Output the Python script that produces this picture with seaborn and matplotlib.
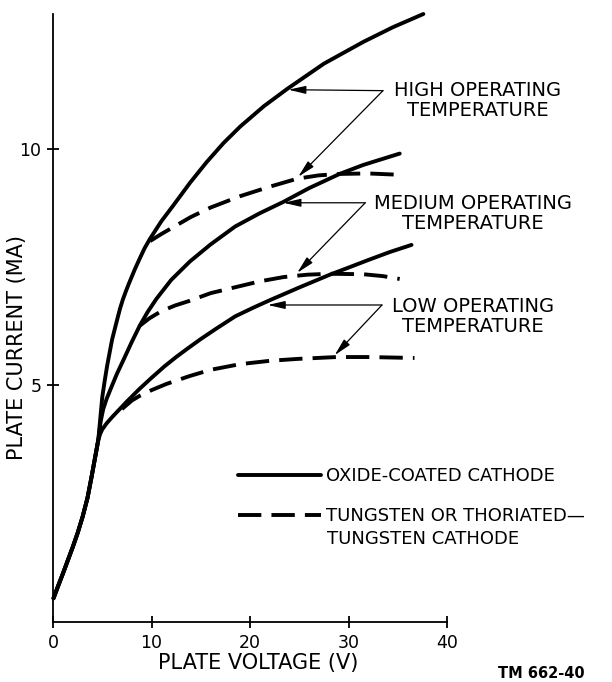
import matplotlib
matplotlib.use("Agg")
import matplotlib.pyplot as plt
from matplotlib.lines import Line2D
import seaborn as sns
import pandas as pd

# ---------------- data ----------------
common_v = [0.05, 0.5, 1.0, 1.5, 2.0, 2.5, 3.0, 3.5, 3.9, 4.25, 4.6]
common_i = [0.50, 0.75, 1.02, 1.30, 1.58, 1.88, 2.22, 2.62, 3.05, 3.45, 3.85]

high_solid_v = [4.8, 5.0, 5.25, 5.5, 6.0, 6.5, 6.8, 7.1, 7.4, 7.7, 8.3, 8.8, 9.3, 9.85, 11.0, 12.2,
                13.9, 15.6, 17.3, 19.0, 21.4, 23.8, 27.5, 31.5, 34.5, 37.6]
high_solid_i = [4.30, 4.75, 5.10, 5.42, 5.97, 6.38, 6.62, 6.82, 6.99, 7.15, 7.45, 7.68, 7.90, 8.10,
                8.47, 8.80, 9.28, 9.72, 10.12, 10.47, 10.90, 11.27, 11.80, 12.26, 12.57, 12.85]
high_dash_v = [9.85, 11.0, 12.0, 14.0, 16.0, 19.0, 22.0, 24.8, 27.0, 29.1, 32.0, 35.4]
high_dash_i = [8.05, 8.20, 8.32, 8.56, 8.76, 9.00, 9.20, 9.37, 9.44, 9.47, 9.48, 9.45]

med_solid_v = [4.85, 5.1, 5.45, 6.0, 6.5, 7.2, 8.0, 8.8, 9.6, 10.5, 12.0, 13.9, 16.0, 18.5,
               21.0, 23.4, 26.0, 29.1, 31.5, 33.5, 35.2]
med_solid_i = [4.25, 4.50, 4.72, 5.00, 5.25, 5.56, 5.92, 6.26, 6.55, 6.83, 7.23, 7.62, 7.98, 8.36,
               8.64, 8.88, 9.17, 9.47, 9.66, 9.79, 9.90]
med_dash_v = [8.8, 9.8, 11.0, 12.4, 13.9, 16.0, 19.0, 21.0, 23.4, 25.8, 28.1, 31.5, 33.5, 35.2]
med_dash_i = [6.26, 6.42, 6.57, 6.69, 6.79, 6.95, 7.10, 7.20, 7.29, 7.34, 7.36, 7.35, 7.31, 7.25]

low_solid_v = [4.8, 5.0, 5.45, 6.0, 6.5, 7.5, 8.8, 10.0, 11.3, 12.5, 13.6, 15.0, 16.5, 18.5,
               20.3, 22.0, 25.0, 28.1, 30.0, 32.0, 34.2, 36.4]
low_solid_i = [3.98, 4.07, 4.20, 4.33, 4.44, 4.66, 4.93, 5.16, 5.40, 5.60, 5.77, 5.98, 6.19, 6.46,
               6.64, 6.80, 7.07, 7.34, 7.49, 7.65, 7.82, 7.97]
low_dash_v = [7.0, 8.0, 8.8, 10.0, 11.5, 13.9, 16.0, 19.0, 22.0, 24.8, 28.8, 32.0, 36.7]
low_dash_i = [4.50, 4.68, 4.78, 4.90, 5.03, 5.20, 5.33, 5.45, 5.52, 5.56, 5.60, 5.60, 5.58]

x_ticks = [0, 10, 20, 30, 40]
y_ticks = [5, 10]

temps = ["HIGH OPERATING\nTEMPERATURE", "MEDIUM OPERATING\nTEMPERATURE", "LOW OPERATING\nTEMPERATURE"]
legend_labels = ["OXIDE-COATED CATHODE", "TUNGSTEN OR THORIATED\u2014", "TUNGSTEN CATHODE"]

# annotation geometry (label centre, arrow apex, solid target, dashed target)
label_pos = [(43.1, 11.02), (42.6, 8.63), (42.6, 6.46)]
apex = [(33.5, 11.23), (31.7, 8.86), (33.4, 6.70)]
solid_tgt = [(23.9, 11.25), (23.4, 8.86), (21.8, 6.70)]
dash_tgt = [(24.9, 9.41), (24.8, 7.38), (28.6, 5.64)]

# ---------------- build long table ----------------
rows = []
def add(name, style, vs, is_):
    for v, i in zip(vs, is_):
        rows.append({"curve": name, "cathode": style, "V": v, "I": i})

add("high_solid", "oxide", common_v + high_solid_v, common_i + high_solid_i)
add("med_solid", "oxide", common_v + med_solid_v, common_i + med_solid_i)
add("low_solid", "oxide", common_v + low_solid_v, common_i + low_solid_i)
add("high_dash", "tungsten", high_dash_v, high_dash_i)
add("med_dash", "tungsten", med_dash_v, med_dash_i)
add("low_dash", "tungsten", low_dash_v, low_dash_i)
df = pd.DataFrame(rows)

# ---------------- plot ----------------
sns.set_theme(style="ticks")
plt.rcParams["font.family"] = ["DejaVu Sans"]

fig = plt.figure(figsize=(6.12, 6.82), dpi=100)
ax = fig.add_axes([53 / 612, 60 / 682, 394 / 612, 608 / 682])

LW = 2.8
DASH = (6, 2.6)
for name, sub in df.groupby("curve", sort=False):
    dashed = sub["cathode"].iloc[0] == "tungsten"
    sns.lineplot(data=sub, x="V", y="I", ax=ax, color="black", lw=LW,
                 estimator=None, sort=False, legend=False)
    ln = ax.lines[-1]
    ln.set_clip_on(False)
    ln.set_solid_capstyle("round")
    ln.set_solid_joinstyle("round")
    if dashed:
        ln.set_dashes(DASH)
        ln.set_dash_capstyle("butt")
        ln.set_dash_joinstyle("round")

ax.set_xlim(0, 40)
ax.set_ylim(0, 12.85)
ax.set_xticks(x_ticks)
ax.set_yticks(y_ticks)
ax.set_xticklabels([str(t) for t in x_ticks])
ax.set_yticklabels([str(t) for t in y_ticks])
sns.despine(ax=ax)
for s in ["left", "bottom"]:
    ax.spines[s].set_linewidth(1.3)
    ax.spines[s].set_color("black")
ax.tick_params(axis="both", direction="inout", length=9, width=1.3, colors="black",
               labelsize=12.5, pad=4)

ax.set_xlabel("PLATE VOLTAGE (V)", fontsize=15, color="black")
ax.set_ylabel("PLATE CURRENT (MA)", fontsize=15, color="black")
ax.xaxis.set_label_coords(0.52, -0.051)
ax.yaxis.set_label_coords(-0.066, 0.451)

arrow_kw = dict(arrowstyle="-|>,head_length=0.7,head_width=0.16", lw=0.9, color="black",
                shrinkA=0, shrinkB=0, mutation_scale=15)
for lab, lp, a, st, dt in zip(temps, label_pos, apex, solid_tgt, dash_tgt):
    ax.text(lp[0], lp[1], lab, ha="center", va="center", fontsize=14,
            linespacing=1.1, multialignment="center", color="black", clip_on=False)
    ax.annotate("", xy=st, xytext=a, arrowprops=arrow_kw, annotation_clip=False)
    ax.annotate("", xy=dt, xytext=a, arrowprops=arrow_kw, annotation_clip=False)

handles = [Line2D([], [], color="black", lw=LW),
           Line2D([], [], color="black", lw=LW, dashes=DASH, dash_capstyle="butt")]
leg = ax.legend(handles, legend_labels[:2], loc="upper left",
                bbox_to_anchor=(238 / 612, 1 - 467 / 682), bbox_transform=fig.transFigure,
                frameon=False, fontsize=13, handlelength=4.6, handletextpad=0.3,
                labelspacing=1.22, borderpad=0, borderaxespad=0)
for t in leg.get_texts():
    t.set_color("black")
fig.text(327 / 612, 1 - 539 / 682, legend_labels[2], ha="left", va="center",
         fontsize=13, color="black")

fig.text(541 / 612, 1 - 674 / 682, "TM 662-40", ha="center", va="center",
         fontsize=10.5, fontweight="bold", color="black")

fig.savefig("out.png", dpi=100, facecolor="white")
